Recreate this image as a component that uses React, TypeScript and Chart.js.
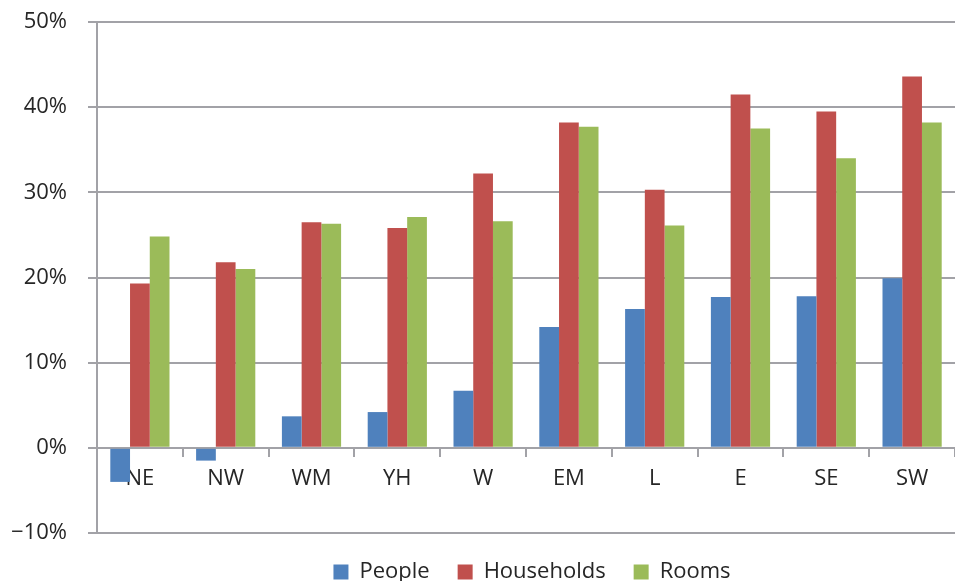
import React, { useEffect, useRef } from "react";
import { Chart, registerables } from "chart.js";

Chart.register(...registerables);

const categories = ["NE", "NW", "WM", "YH", "W", "EM", "L", "E", "SE", "SW"];
const people = [-4.0, -1.5, 3.7, 4.2, 6.7, 14.2, 16.3, 17.7, 17.8, 19.9];
const households = [19.3, 21.8, 26.5, 25.8, 32.2, 38.2, 30.3, 41.5, 39.5, 43.6];
const rooms = [24.8, 21.0, 26.3, 27.1, 26.6, 37.7, 26.1, 37.5, 34.0, 38.2];
const yTicks = [-10, 0, 10, 20, 30, 40, 50];

const FONT = "'Open Sans', 'Noto Sans', sans-serif";
const GRID = "#a2a2a7";
const TEXT = "#262626";

const legendShift = {
  id: "legendShift",
  afterLayout(chart: any) {
    const lg = chart.legend;
    if (lg) {
      lg.left += 6;
      lg.right += 6;
    }
  },
};

export default function App() {
  const ref = useRef<HTMLCanvasElement | null>(null);

  useEffect(() => {
    document.body.style.margin = "0";
    const canvas = ref.current;
    if (!canvas) return;
    const chart = new Chart(canvas, {
      type: "bar",
      data: {
        labels: categories,
        datasets: [
          { label: "People", data: people, backgroundColor: "#4f81bd" },
          { label: "Households", data: households, backgroundColor: "#c0504d" },
          { label: "Rooms", data: rooms, backgroundColor: "#9bbb59" },
        ],
      },
      plugins: [legendShift],
      options: {
        animation: false,
        responsive: false,
        maintainAspectRatio: false,
        layout: { padding: { top: 22, right: 0, left: 0, bottom: -12 } },
        datasets: {
          bar: { categoryPercentage: 0.69, barPercentage: 1.0 },
        },
        plugins: {
          tooltip: { enabled: false },
          legend: {
            position: "bottom",
            fullSize: false,
            labels: {
              font: { family: FONT, size: 22 },
              color: TEXT,
              boxWidth: 15,
              boxHeight: 15,
              padding: 28,
            },
          },
        },
        scales: {
          x: {
            position: { y: 0 } as any,
            z: 1,
            grid: {
              drawOnChartArea: false,
              drawTicks: true,
              tickLength: 8,
              color: GRID,
              lineWidth: 2,
              offset: true,
            },
            border: { display: true, color: GRID, width: 2 },
            ticks: {
              font: { family: FONT, size: 22 },
              color: TEXT,
              padding: 10,
              maxRotation: 0,
              autoSkip: false,
            },
          },
          y: {
            min: -10,
            max: 50,
            afterFit: (scale: any) => {
              scale.width = 97;
              scale.paddingTop = 0;
              scale.paddingBottom = 0;
            },
            afterBuildTicks: (scale: any) => {
              scale.ticks = yTicks.map((v) => ({ value: v }));
            },
            grid: {
              color: GRID,
              lineWidth: 2,
              tickLength: 9,
              drawTicks: true,
            },
            border: { display: true, color: GRID, width: 2 },
            ticks: {
              font: { family: FONT, size: 22 },
              color: TEXT,
              padding: 21,
              callback: (v: any) =>
                Number(v) < 0 ? "\u2212" + Math.abs(Number(v)) + "%" : v + "%",
            },
          },
        },
      },
    });
    return () => chart.destroy();
  }, []);

  return (
    <div style={{ width: 955, height: 581, position: "relative" }}>
      <canvas ref={ref} width={955} height={581} style={{ width: 955, height: 581, display: "block" }} />
    </div>
  );
}
